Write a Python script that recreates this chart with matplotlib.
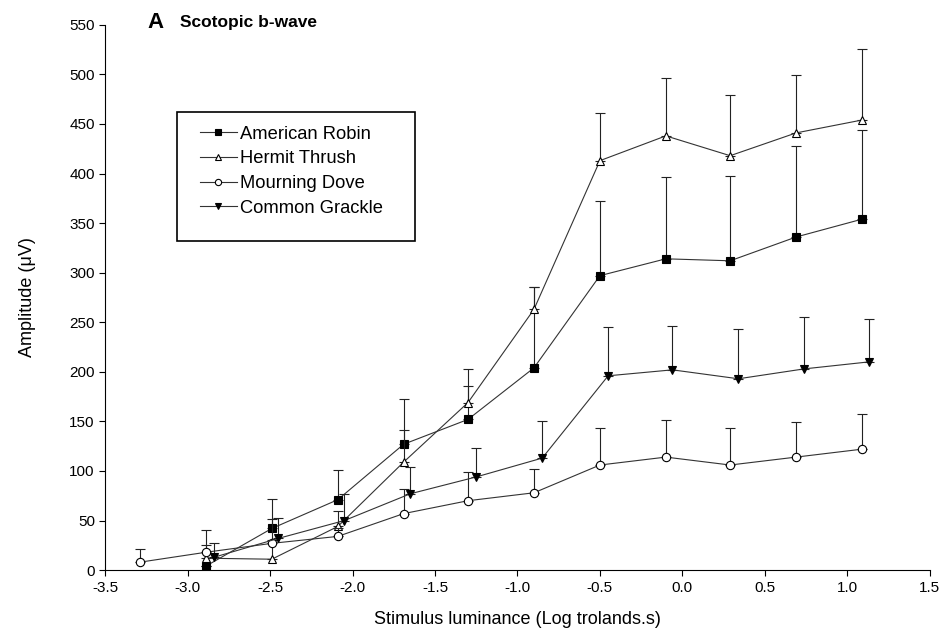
import numpy as np
import matplotlib.pyplot as plt
from matplotlib.patches import Rectangle

plt.rcParams['font.family'] = ['Liberation Sans', 'DejaVu Sans']

# stimulus luminance (log trolands.s) and mean amplitude / upper error bar end (uV)
robin_x = [-2.89, -2.49, -2.09, -1.69, -1.30, -0.90, -0.50, -0.10, 0.29, 0.69, 1.09]
robin_y = [4, 42, 71, 127, 152, 204, 297, 314, 312, 336, 354]
robin_top = [4, 72, 101, 173, 203, 286, 372, 397, 398, 428, 444]

thrush_x = [-2.89, -2.49, -2.09, -1.69, -1.30, -0.90, -0.50, -0.10, 0.29, 0.69, 1.09]
thrush_y = [12, 11, 44, 109, 169, 263, 413, 438, 418, 441, 454]
thrush_top = [25, 30, 60, 141, 186, 286, 461, 496, 479, 499, 526]

dove_x = [-3.29, -2.89, -2.49, -2.09, -1.69, -1.30, -0.90, -0.50, -0.10, 0.29, 0.69, 1.09]
dove_y = [8, 18, 27, 34, 57, 70, 78, 106, 114, 106, 114, 122]
dove_top = [21, 40, 52, 42, 82, 99, 102, 143, 151, 143, 149, 157]

grackle_x = [-2.84, -2.45, -2.05, -1.65, -1.25, -0.85, -0.45, -0.06, 0.34, 0.74, 1.13]
grackle_y = [13, 32, 50, 77, 94, 113, 196, 202, 193, 203, 210]
grackle_top = [27, 53, 77, 104, 123, 150, 245, 246, 243, 255, 253]

fig = plt.figure(figsize=(9.4, 6.37), dpi=100)
ax = fig.add_axes([0.112, 0.105, 0.877, 0.856])

series = [
    ('American Robin', robin_x, robin_y, robin_top, 's', 'black', 5.5),
    ('Hermit Thrush', thrush_x, thrush_y, thrush_top, '^', 'white', 6),
    ('Mourning Dove', dove_x, dove_y, dove_top, 'o', 'white', 6),
    ('Common Grackle', grackle_x, grackle_y, grackle_top, 'v', 'black', 6),
]

for name, x, y, top, m, fc, ms in series:
    y = np.array(y)
    up = np.array(top) - y
    ax.errorbar(x, y, yerr=[np.zeros_like(up), up], fmt='none',
                ecolor='#222222', elinewidth=0.8, capsize=3.5, capthick=0.8)
    ax.plot(x, y, color='#333333', lw=0.8, marker=m, ms=ms,
            markerfacecolor=fc, markeredgecolor='black', markeredgewidth=0.8,
            label=name)

ax.set_xlim(-3.5, 1.5)
ax.set_ylim(0, 550)
ax.set_xticks(np.arange(-3.5, 1.51, 0.5))
ax.set_yticks(np.arange(0, 551, 50))
ax.xaxis.set_major_formatter(plt.FormatStrFormatter('%.1f'))
ax.spines['top'].set_visible(False)
ax.spines['right'].set_visible(False)
for s in ['left', 'bottom']:
    ax.spines[s].set_linewidth(0.8)
ax.tick_params(direction='out', length=4, width=0.8, labelsize=11)

ax.set_xlabel('Stimulus luminance (Log trolands.s)', fontsize=13, labelpad=12)
ax.set_ylabel('Amplitude (\u03bcV)', fontsize=13, labelpad=24)

fig.text(0.157, 0.965, 'A', fontsize=16, fontweight='bold', va='center')
fig.text(0.192, 0.965, 'Scotopic b-wave', fontsize=12.5, fontweight='bold', va='center')

# legend entries without frame, box drawn separately so it can be wider
leg = ax.legend(loc='upper left', bbox_to_anchor=(0.115, 0.815), fontsize=13.2,
                frameon=False, handlelength=2.0, handletextpad=0.15,
                markerscale=0.75, borderpad=0, labelspacing=0.42,
                borderaxespad=0)
ax.add_patch(Rectangle((0.0873, 0.604), 0.289, 0.236, transform=ax.transAxes,
                       fill=False, edgecolor='black', lw=1.2, zorder=5))

fig.savefig('out.png', dpi=100)
